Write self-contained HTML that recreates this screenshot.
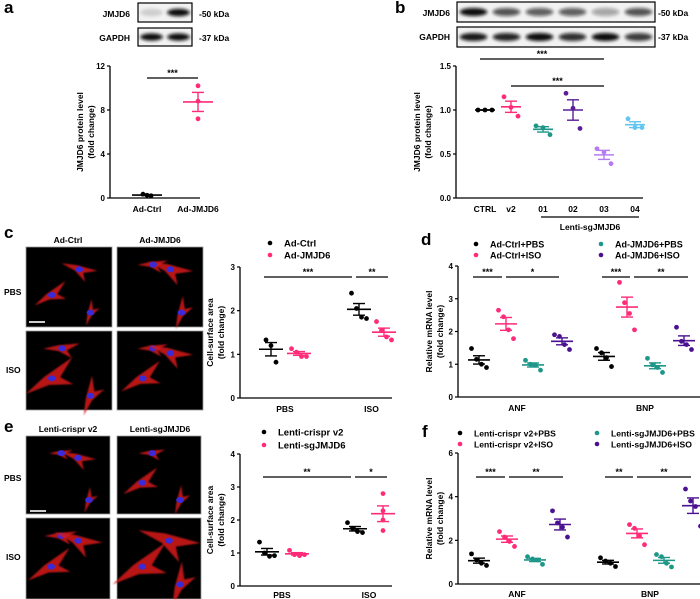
<!DOCTYPE html>
<html><head><meta charset="utf-8">
<style>
html,body{margin:0;padding:0;background:#fff;}
svg{display:block;font-family:"Liberation Sans",Arial,sans-serif;font-weight:bold;}
</style></head>
<body>
<svg id="fig" width="700" height="599" viewBox="0 0 700 599" xmlns="http://www.w3.org/2000/svg">
<defs>
<filter id="bl" x="-30%" y="-100%" width="160%" height="300%"><feGaussianBlur stdDeviation="1.6"/></filter>
<filter id="bl2"><feGaussianBlur stdDeviation="0.7"/></filter>
</defs>
<g id="root"></g>
</svg>
<script>
// ---------- DATA ----------
const aCats = ["Ad-Ctrl","Ad-JMJD6"];
const aPts = [[0.35,0.25,0.2],[10.2,8.8,7.2]];
const aTicks = [0,4,8,12];

const bCats = ["CTRL","v2","01","02","03","04"];
const bPts = [[1,1,1],[1.15,1.03,0.93],[0.82,0.80,0.72],[1.19,1.02,0.79],[0.56,0.52,0.39],[0.90,0.80,0.80]];
const bTicks = [0,0.5,1.0,1.5];
const bTickLabels = ["0.0","0.5","1.0","1.5"];

const cCats = ["PBS","ISO"];
const cSeries = ["Ad-Ctrl","Ad-JMJD6"];
const cCtrl = [[1.33,1.2,0.82],[2.4,2.05,1.85,1.82]];
const cJm = [[1.13,1.05,0.95,0.95],[1.75,1.55,1.4,1.33]];
const cTicks = [0,1,2,3];

const dCats = ["ANF","BNP"];
const dSeries = ["Ad-Ctrl+PBS","Ad-Ctrl+ISO","Ad-JMJD6+PBS","Ad-JMJD6+ISO"];
const dANF = [[1.48,1.15,1.0,0.9],[2.65,2.45,2.05,1.78],[1.12,1.0,0.97,0.82],[1.9,1.85,1.6,1.45]];
const dBNP = [[1.48,1.35,1.2,0.93],[3.5,2.88,2.55,2.05],[1.18,0.98,0.9,0.75],[2.13,1.7,1.6,1.45]];
const dTicks = [0,1,2,3,4];

const eCats = ["PBS","ISO"];
const eSeries = ["Lenti-crispr v2","Lenti-sgJMJD6"];
const eCtrl = [[1.33,1.0,0.9,0.92],[1.92,1.75,1.65,1.62]];
const eSg = [[1.08,0.95,0.92,0.95],[2.8,2.28,2.0,1.68]];
const eTicks = [0,1,2,3,4];

const fCats = ["ANF","BNP"];
const fSeries = ["Lenti-crispr v2+PBS","Lenti-crispr v2+ISO","Lenti-sgJMJD6+PBS","Lenti-sgJMJD6+ISO"];
const fANF = [[1.38,1.1,0.95,0.85],[2.4,2.15,1.95,1.72],[1.25,1.15,1.1,0.9],[3.35,2.8,2.6,2.15]];
const fBNP = [[1.2,1.05,0.95,0.8],[2.72,2.55,2.2,1.8],[1.35,1.25,0.95,0.78],[4.35,3.8,3.55,2.65]];
const fTicks = [0,2,4,6];

// ---------- helpers ----------
const NS="http://www.w3.org/2000/svg";
const root=document.getElementById('root');
function el(tag,attrs,parent,text){const e=document.createElementNS(NS,tag);for(const k in attrs)e.setAttribute(k,attrs[k]);if(text!==undefined)e.textContent=text;(parent||root).appendChild(e);return e;}
function txt(x,y,s,size,anchor,parent,name,extra){const t=el('text',Object.assign({x:x,y:y,'font-size':size,'text-anchor':anchor||'middle',fill:'#000'},extra||{}),parent,s);


return t;}
function mean(a){return a.reduce((s,v)=>s+v,0)/a.length;}
function sem(a){const m=mean(a);const sd=Math.sqrt(a.reduce((s,v)=>s+(v-m)*(v-m),0)/(a.length-1));return sd/Math.sqrt(a.length);}
function scaleY(y0,yTop,max){return v=>y0-(v/max)*(y0-yTop);}

function axes(g,ax,y0,yTop,xEnd,ticks,labels,Y,title1,title2,tx,name){
  const ya=el('line',{x1:ax,y1:yTop,x2:ax,y2:y0,stroke:'#000','stroke-width':1.3},g);
  
  
  const xa=el('line',{x1:ax,y1:y0,x2:xEnd,y2:y0,stroke:'#000','stroke-width':1.3},g);
  
  
  ticks.forEach((v,i)=>{
    el('line',{x1:ax-3,y1:Y(v),x2:ax,y2:Y(v),stroke:'#000','stroke-width':1.2},g);
    txt(ax-5,Y(v)+3,labels?labels[i]:String(v),8,'end',g,name+'-y-tick');
  });
  const cy=(y0+yTop)/2;
  txt(0,0,title1,8.5,'middle',g,name+'-y-axis-title',{transform:`translate(${tx},${cy}) rotate(-90)`});
  txt(0,0,title2,8.5,'middle',g,name+'-y-axis-title-2',{transform:`translate(${tx+11},${cy}) rotate(-90)`});
}
function group(g,x,pts,Y,color,name,wm,jit){
  const gg=el('g',{},g);
  
  
  const n=pts.length;
  pts.forEach((v,i)=>{const off=jit?(i-(n-1)/2)*jit:0;
    const c=el('circle',{cx:x+off,cy:Y(v),r:2.4,fill:color},gg);
    
    });
  const m=mean(pts),s=sem(pts);wm=wm||24;
  const ml=el('line',{x1:x-wm/2,y1:Y(m),x2:x+wm/2,y2:Y(m),stroke:color,'stroke-width':1.6},gg);
  
  
  el('line',{x1:x,y1:Y(m+s),x2:x,y2:Y(m-s),stroke:color,'stroke-width':1.4},gg);
  el('line',{x1:x-6,y1:Y(m+s),x2:x+6,y2:Y(m+s),stroke:color,'stroke-width':1.4},gg);
  el('line',{x1:x-6,y1:Y(m-s),x2:x+6,y2:Y(m-s),stroke:color,'stroke-width':1.4},gg);
}
function sig(g,x1,x2,y,s,name){
  const l=el('line',{x1:x1,y1:y,x2:x2,y2:y,stroke:'#000','stroke-width':1.2},g);
  
  
  txt((x1+x2)/2,y-2,s,9,'middle',g,name+'-stars');
}
function legendEntry(g,x,y,color,s,name,fs){
  const c=el('circle',{cx:x,cy:y,r:2.3,fill:color},g);
  
  
  txt(x+14,y+3.5,s,fs||9.5,'start',g,name);
}
function panelLetter(x,y,s){txt(x,y,s,17,'start',root,'panel-letter-'+s);}
const BLK='#000',PINK='#ff2a78',TEAL='#1e9688',PURP='#4a1190',LPURP='#b57cf2',LBLUE='#62c6ef',PURP2='#5b1e98';

// ---------- blots ----------
function blot(x,y,w,h,bands,name){
  const g=el('g',{},root);
  
  
  el('rect',{x:x,y:y,width:w,height:h,fill:'#f2f2f2',stroke:'#000','stroke-width':1.2},g);
  const lw=w/bands.length;
  bands.forEach((a,i)=>{
    el('ellipse',{cx:x+lw*(i+0.5),cy:y+h/2,rx:lw*0.42,ry:h*0.2,fill:'#111','fill-opacity':a,filter:'url(#bl)'},g);
  });
}
panelLetter(4,13,'a');
blot(138,3,54,19,[0.15,1],'blot-a-jmjd6');
blot(138,28,54,18,[1,1],'blot-a-gapdh');
txt(130,17,'JMJD6',8.5,'end',root,'blot-a-label-jmjd6');
txt(130,41,'GAPDH',8.5,'end',root,'blot-a-label-gapdh');
txt(199,17,'-50 kDa',8.5,'start',root,'blot-a-kda-50');
txt(199,41,'-37 kDa',8.5,'start',root,'blot-a-kda-37');

panelLetter(395,13,'b');
blot(457,2,198,20,[1,0.7,0.65,0.65,0.35,0.7],'blot-b-jmjd6');
blot(457,27,198,20,[0.95,0.9,1,0.85,1,0.8],'blot-b-gapdh');
txt(450,16,'JMJD6',8.5,'end',root,'blot-b-label-jmjd6');
txt(450,40,'GAPDH',8.5,'end',root,'blot-b-label-gapdh');
txt(658,16,'-50 kDa',8.5,'start',root,'blot-b-kda-50');
txt(658,40,'-37 kDa',8.5,'start',root,'blot-b-kda-37');

// ---------- panel a ----------
(function(){
  const g=el('g',{},root);
  const Y=scaleY(198,66,12);const xs=[147,198];
  axes(g,110,198,66,200,aTicks,null,Y,'JMJD6 protein level','(fold change)',83,'chart-a');
  aCats.forEach((c,i)=>txt(xs[i],212,c,8.5,'middle',g,'chart-a-x-label'));
  group(g,xs[0],aPts[0],Y,BLK,'a-ad-ctrl',30,4);
  group(g,xs[1],aPts[1],Y,PINK,'a-ad-jmjd6',30,0);
  sig(g,147,198,78,'***','a-sig');
})();

// ---------- panel b ----------
(function(){
  const g=el('g',{},root);
  const Y=scaleY(198,66,1.5);const xs=[485,511,543,573,604,635];const cols=[BLK,PINK,TEAL,PURP2,LPURP,LBLUE];
  axes(g,456,198,66,643,bTicks,bTickLabels,Y,'JMJD6 protein level','(fold change)',420,'chart-b');
  bCats.forEach((c,i)=>{txt(xs[i],212,c,8.5,'middle',g,'chart-b-x-label');group(g,xs[i],bPts[i],Y,cols[i],'b-'+c,20,7);});
  const l=el('line',{x1:541,y1:217,x2:639,y2:217,stroke:'#000','stroke-width':1.2},g);
  
  txt(590,230,'Lenti-sgJMJD6',8.5,'middle',g,'b-group-label');
  sig(g,480,604,59,'***','b-sig-1');
  sig(g,511,604,86,'***','b-sig-2');
})();

// ---------- photos ----------
function photo(x,y,w,h,seed,name,scale){
  const g=el('g',{},root);
  el('rect',{x:x,y:y,width:w,height:h,fill:'#000',stroke:'#999','stroke-width':0.8},g);
  const cells=[[0.3,0.6,0.16,-20],[0.62,0.28,0.15,30],[0.75,0.82,0.11,-60],[0.42,0.22,0.1,10]];
  const sh=seed%4;
  const cl=el('g',{'clip-path':'none'},g);
  for(let i=0;i<3;i++){
    const c=cells[(i+sh)%4];const cx=x+c[0]*w,cy=y+c[1]*h,r=c[2]*w*(scale||1);
    const pts=[[-1.8,0.5],[-0.4,-0.35],[1.6,-1.1],[0.5,0.15],[1.1,1.1],[-0.3,0.45]].map(p=>(cx+p[0]*r)+','+(cy+p[1]*r*0.7)).join(' ');
    el('polygon',{points:pts,fill:'#d8161a','fill-opacity':0.85,transform:`rotate(${c[3]} ${cx} ${cy})`,filter:'url(#bl2)'},cl);
    el('ellipse',{cx:cx,cy:cy,rx:3.8,ry:3,fill:'#3a2ad8'},cl);
  }
  return g;
}
panelLetter(4,238,'c');
txt(68,243,'Ad-Ctrl',8.5,'middle',root,'c-col-header-ad-ctrl');
txt(160,243,'Ad-JMJD6',8.5,'middle',root,'c-col-header-ad-jmjd6');
txt(4,295,'PBS',8.5,'start',root,'c-row-label-pbs');
txt(6,373,'ISO',8.5,'start',root,'c-row-label-iso');
photo(26,247,86,80,0,'c-photo-ctrl-pbs',0.8);
photo(117,247,86,80,1,'c-photo-jmjd6-pbs',1);
photo(26,331,86,79,2,'c-photo-ctrl-iso',1.2);
photo(117,331,86,79,3,'c-photo-jmjd6-iso',1);
el('line',{x1:29,y1:322,x2:45,y2:322,stroke:'#fff','stroke-width':1.6});

panelLetter(4,432,'e');
txt(68,432,'Lenti-crispr v2',8.5,'middle',root,'e-col-header-v2');
txt(160,432,'Lenti-sgJMJD6',8.5,'middle',root,'e-col-header-sg');
txt(4,481,'PBS',8.5,'start',root,'e-row-label-pbs');
txt(6,560,'ISO',8.5,'start',root,'e-row-label-iso');
photo(26,436,84,78,1,'e-photo-v2-pbs',0.8);
photo(117,436,84,78,2,'e-photo-sg-pbs',0.9);
photo(26,518,84,81,3,'e-photo-v2-iso',1.1);
photo(117,518,84,81,0,'e-photo-sg-iso',1.4);
el('line',{x1:30,y1:511,x2:46,y2:511,stroke:'#fff','stroke-width':1.6});

// ---------- panel c ----------
(function(){
  const g=el('g',{},root);
  const Y=scaleY(398,267,3);const xs=[[271,299],[359,384]];
  axes(g,240,398,267,392,cTicks,null,Y,'Cell-surface area','(fold change)',213,'chart-c');
  cCats.forEach((c,i)=>{txt((xs[i][0]+xs[i][1])/2,412,c,8.5,'middle',g,'chart-c-x-label');
    group(g,xs[i][0],cCtrl[i],Y,BLK,'c-'+c+'-ad-ctrl',24,5);
    group(g,xs[i][1],cJm[i],Y,PINK,'c-'+c+'-ad-jmjd6',24,5);});
  legendEntry(g,270,243,BLK,cSeries[0],'c-legend-ad-ctrl');
  legendEntry(g,270,255,PINK,cSeries[1],'c-legend-ad-jmjd6');
  sig(g,264,352,277,'***','c-sig-1');
  sig(g,356,388,277,'**','c-sig-2');
})();

// ---------- panel d ----------
panelLetter(421,245,'d');
(function(){
  const g=el('g',{},root);
  const Y=scaleY(397,266,4);const xa=[479,506,533,562],xb=[604,627,655,684];const cols=[BLK,PINK,TEAL,PURP];
  axes(g,458,397,266,700,dTicks,null,Y,'Relative mRNA level','(fold change)',432,'chart-d');
  txt(517,411,dCats[0],8.5,'middle',g,'chart-d-x-label');txt(645,411,dCats[1],8.5,'middle',g,'chart-d-x-label');
  for(let i=0;i<4;i++){group(g,xa[i],dANF[i],Y,cols[i],'d-anf-'+i,22,5);group(g,xb[i],dBNP[i],Y,cols[i],'d-bnp-'+i,22,5);}
  legendEntry(g,476,244,BLK,dSeries[0],'d-legend-0',9);
  legendEntry(g,476,255,PINK,dSeries[1],'d-legend-1',9);
  legendEntry(g,601,244,TEAL,dSeries[2],'d-legend-2',9);
  legendEntry(g,601,255,PURP,dSeries[3],'d-legend-3',9);
  sig(g,473,502,277,'***','d-sig-1');sig(g,506,559,277,'*','d-sig-2');
  sig(g,602,630,277,'***','d-sig-3');sig(g,634,688,277,'**','d-sig-4');
})();

// ---------- panel e ----------
(function(){
  const g=el('g',{},root);
  const Y=scaleY(586,454,4);const xs=[[267,297],[355,383]];
  axes(g,240,586,454,392,eTicks,null,Y,'Cell-surface area','(fold change)',213,'chart-e');
  eCats.forEach((c,i)=>{txt((xs[i][0]+xs[i][1])/2,598,c,8.5,'middle',g,'chart-e-x-label');
    group(g,xs[i][0],eCtrl[i],Y,BLK,'e-'+c+'-v2',24,5);
    group(g,xs[i][1],eSg[i],Y,PINK,'e-'+c+'-sg',24,i==1?0:5);});
  legendEntry(g,264,432,BLK,eSeries[0],'e-legend-v2');
  legendEntry(g,264,445,PINK,eSeries[1],'e-legend-sg');
  sig(g,263,351,477,'**','e-sig-1');
  sig(g,355,387,477,'*','e-sig-2');
})();

// ---------- panel f ----------
panelLetter(422,437,'f');
(function(){
  const g=el('g',{},root);
  const Y=scaleY(584,453,6);const xa=[479,507,535,560],xb=[608,637,664,693];const cols=[BLK,PINK,TEAL,PURP];
  axes(g,458,584,453,700,fTicks,null,Y,'Relative mRNA level','(fold change)',432,'chart-f');
  txt(517,597,fCats[0],8.5,'middle',g,'chart-f-x-label');txt(650,597,fCats[1],8.5,'middle',g,'chart-f-x-label');
  for(let i=0;i<4;i++){group(g,xa[i],fANF[i],Y,cols[i],'f-anf-'+i,22,5);group(g,xb[i],fBNP[i],Y,cols[i],'f-bnp-'+i,22,5);}
  legendEntry(g,460,433,BLK,fSeries[0],'f-legend-0',8.6);
  legendEntry(g,460,444,PINK,fSeries[1],'f-legend-1',8.6);
  legendEntry(g,597,433,TEAL,fSeries[2],'f-legend-2',8.6);
  legendEntry(g,597,444,PURP,fSeries[3],'f-legend-3',8.6);
  sig(g,476,505,477,'***','f-sig-1');sig(g,509,563,477,'**','f-sig-2');
  sig(g,605,633,477,'**','f-sig-3');sig(g,637,691,477,'**','f-sig-4');
})();
</script>
</body></html>
